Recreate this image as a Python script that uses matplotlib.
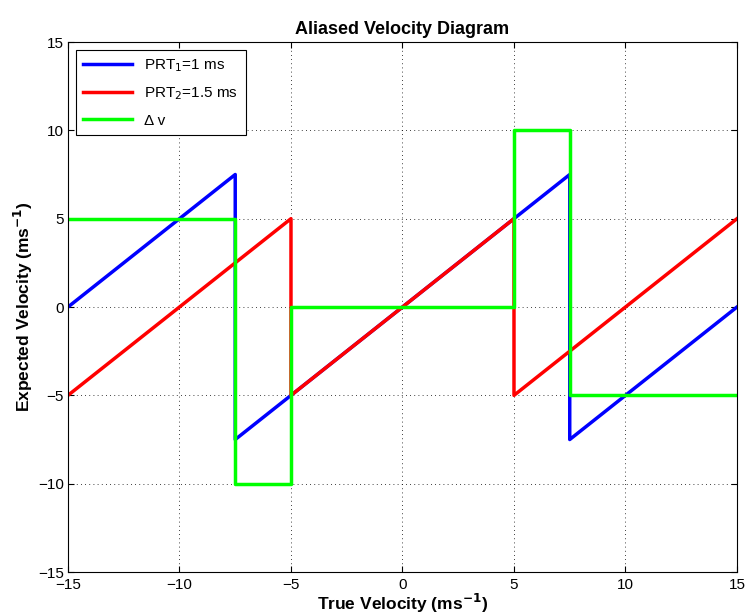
import matplotlib
matplotlib.use('Agg')
import matplotlib.pyplot as plt

plt.rcParams['font.family'] = ['Liberation Sans', 'DejaVu Sans']
plt.rcParams['axes.unicode_minus'] = True

# breakpoints of the aliased velocity curves (true velocity, expected velocity)
prt1_x = [-15, -7.5, -7.5, 7.5, 7.5, 15]
prt1_y = [0, 7.5, -7.5, 7.5, -7.5, 0]

prt2_x = [-15, -5, -5, 5, 5, 15]
prt2_y = [-5, 5, -5, 5, -5, 5]

dv_x = [-15, -7.5, -7.5, -5, -5, 5, 5, 7.5, 7.5, 15]
dv_y = [5, 5, -10, -10, 0, 0, 10, 10, -5, -5]

ticks = [-15, -10, -5, 0, 5, 10, 15]

fig = plt.figure(figsize=(7.47, 6.16), dpi=100)
ax = fig.add_axes([0.091, 0.0714, 0.8956, 0.8604])

ax.plot(prt1_x, prt1_y, color=(0, 0, 1), lw=2.5, label='PRT$_1$=1 ms')
ax.plot(prt2_x, prt2_y, color=(1, 0, 0), lw=2.5, label='PRT$_2$=1.5 ms')
ax.plot(dv_x, dv_y, color=(0, 1, 0), lw=2.5, label='Δ v')

ax.set_xlim(-15, 15)
ax.set_ylim(-15, 15)
ax.set_xticks(ticks)
ax.set_yticks(ticks)
ax.tick_params(direction='in', top=True, right=True, labelsize=11, length=4)
ax.tick_params(axis='x', pad=4)
ax.tick_params(axis='y', pad=3)
ax.grid(True, color='black', linestyle=(0, (1, 4)), linewidth=0.6)
for s in ax.spines.values():
    s.set_linewidth(0.8)

ax.set_title('Aliased Velocity Diagram', fontsize=13, fontweight='bold')
ax.set_xlabel('True Velocity (ms$^{\\mathbf{-1}}$)', fontsize=12.5, fontweight='bold', labelpad=0)
ax.set_ylabel('Expected Velocity (ms$^{\\mathbf{-1}}$)', fontsize=12.5, fontweight='bold', labelpad=2)

leg = ax.legend(loc='upper left', fontsize=11, fancybox=False, framealpha=1,
                edgecolor='black', borderaxespad=0.5, handlelength=3.2,
                labelspacing=0.75, borderpad=0.5)
leg.get_frame().set_linewidth(0.8)

plt.savefig('out.png', dpi=100)
